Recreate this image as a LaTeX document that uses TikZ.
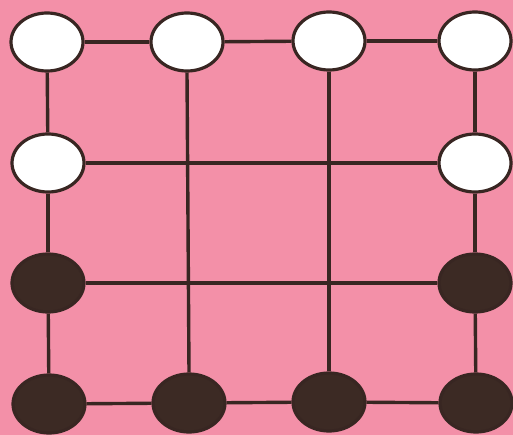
\documentclass[tikz,border=0pt]{standalone}
\usetikzlibrary{shapes.geometric}
\definecolor{bgpink}{RGB}{243,144,168}
\definecolor{ink}{RGB}{56,38,34}
\definecolor{stone}{RGB}{60,42,36}
\begin{document}
\begin{tikzpicture}[x=1pt,y=-1pt,
  stonebase/.style={ellipse,draw=ink,line width=3.2pt,minimum width=72pt,minimum height=58pt,inner sep=0pt},
  whitestone/.style={stonebase,fill=white},
  blackstone/.style={stonebase,fill=stone},
  gridline/.style={draw=ink,line width=3.4pt}]
\fill[bgpink] (0,0) rectangle (513,435);
\useasboundingbox (0,0) rectangle (513,435);
% row 1
\node[whitestone] (a11) at (47,42) {};
\node[whitestone] (a12) at (187,42) {};
\node[whitestone] (a13) at (329,41) {};
\node[whitestone] (a14) at (475,41) {};
% row 2
\node[whitestone] (a21) at (48,163) {};
\node[whitestone] (a24) at (475,163) {};
% row 3
\node[blackstone] (a31) at (48,283) {};
\node[blackstone] (a34) at (475,283) {};
% row 4
\node[blackstone] (a41) at (49,404) {};
\node[blackstone] (a42) at (189,403) {};
\node[blackstone] (a43) at (329,402) {};
\node[blackstone] (a44) at (476,403) {};
% horizontal lines
\draw[gridline] (a11) -- (a12);
\draw[gridline] (a12) -- (a13);
\draw[gridline] (a13) -- (a14);
\draw[gridline] (a21) -- (a24);
\draw[gridline] (a31) -- (a34);
\draw[gridline] (a41) -- (a42);
\draw[gridline] (a42) -- (a43);
\draw[gridline] (a43) -- (a44);
% vertical lines
\draw[gridline] (a11) -- (a21);
\draw[gridline] (a21) -- (a31);
\draw[gridline] (a31) -- (a41);
\draw[gridline] (a12.south) -- (a42.north);
\draw[gridline] (a13.south) -- (a43.north);
\draw[gridline] (a14) -- (a24);
\draw[gridline] (a24) -- (a34);
\draw[gridline] (a34) -- (a44);
\end{tikzpicture}
\end{document}
